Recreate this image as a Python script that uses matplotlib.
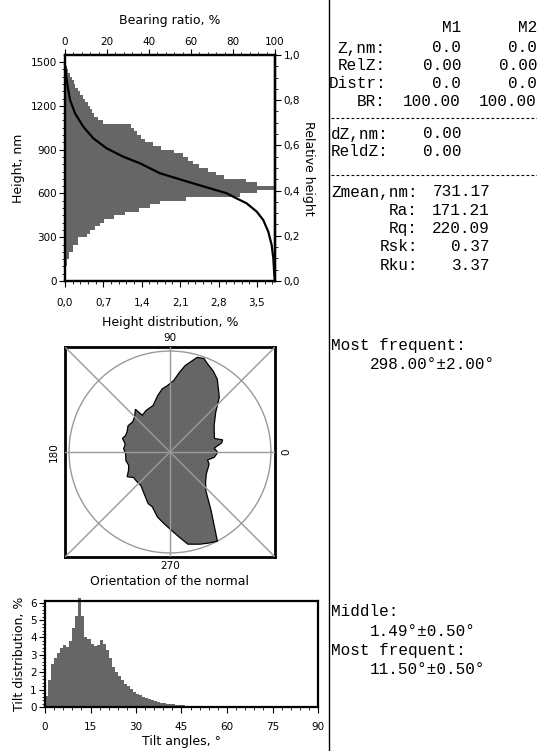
import numpy as np
import matplotlib
matplotlib.use('Agg')
import matplotlib.pyplot as plt
from matplotlib.ticker import MultipleLocator, FuncFormatter

W, H = 537, 751

# height distribution, 25 nm bins starting at 100 nm (%)
height_lo = list(range(100, 1500, 25))
height_dist = [0.03, 0.03, 0.08, 0.08, 0.15, 0.15, 0.24, 0.24, 0.40, 0.46,
               0.55, 0.64, 0.72, 0.90, 1.10, 1.35, 1.55, 1.73, 2.20, 3.20,
               3.50, 3.84, 3.50, 3.30, 2.90, 2.75, 2.60, 2.45, 2.34, 2.25,
               2.15, 1.98, 1.75, 1.60, 1.45, 1.38, 1.31, 1.26, 1.20, 0.70,
               0.60, 0.52, 0.49, 0.45, 0.42, 0.37, 0.32, 0.27, 0.23, 0.19,
               0.16, 0.12, 0.09, 0.06, 0.04, 0.02]

# bearing ratio curve
br_pct = [0, 0.8, 2.4, 4.8, 8.7, 13.5, 19.8, 27.8, 35.7, 40.5, 45.2, 53.2,
          61, 69, 77, 81.7, 86.5, 91.3, 94.4, 96.8, 98.4, 99.2, 99.6, 100]
br_height = [1480, 1377, 1240, 1148, 1057, 977, 909, 851, 806, 772, 738, 703,
             669, 635, 601, 566, 532, 475, 418, 338, 247, 155, 60, 0]

# orientation of the normal (rose), angle in degrees and relative radius
rose_ang = [0, 5, 10, 13, 17, 24, 31, 41, 48, 57, 62, 67, 70, 74, 80, 83, 87,
            92, 97, 102, 110, 120, 127, 129, 135, 141, 148, 155, 160, 164, 170,
            176, 182, 191, 198, 204, 210, 215, 220, 229, 238, 247, 252, 259,
            265, 271, 276, 281, 288, 293, 298, 305, 313, 320, 329, 336, 343,
            348, 353, 357]
rose_r = [0.47, 0.44, 0.52, 0.535, 0.46, 0.48, 0.51, 0.60, 0.73, 0.86, 0.91,
          0.95, 0.985, 0.975, 0.87, 0.80, 0.71, 0.66, 0.63, 0.575, 0.49, 0.475,
          0.455, 0.545, 0.495, 0.475, 0.49, 0.47, 0.47, 0.49, 0.45, 0.46, 0.44,
          0.445, 0.43, 0.45, 0.49, 0.44, 0.44, 0.44, 0.485, 0.555, 0.57, 0.655,
          0.71, 0.775, 0.845, 0.93, 0.96, 0.98, 1.0, 0.71, 0.52, 0.46, 0.42,
          0.41, 0.405, 0.38, 0.44, 0.46]

# tilt distribution, 1 degree bins (%)
tilt_dist = [0.65, 1.53, 2.45, 2.84, 3.10, 3.39, 3.55, 3.43, 3.78, 4.57,
             5.25, 6.25, 5.25, 4.02, 3.94, 3.63, 3.49, 3.59, 3.88, 3.63,
             3.29, 2.80, 2.31, 2.02, 1.76, 1.53, 1.33, 1.20, 1.04, 0.84,
             0.75, 0.69, 0.59, 0.51, 0.45, 0.39, 0.33, 0.29, 0.25, 0.22,
             0.20, 0.18, 0.16, 0.14, 0.12, 0.10, 0.08, 0.06, 0.05, 0.04,
             0.03, 0.03, 0.02, 0.02, 0.01, 0.01]

H_MAX = 1548
GRAY = '#666666'
LINEGRAY = '#9a9a9a'
TICK_FS = 7.5
LAB_FS = 9


def frac(x0, y0, x1, y1):
    # pixel box -> figure fraction rect
    return [x0 / W, 1 - y1 / H, (x1 - x0) / W, (y1 - y0) / H]


def comma(v, pos):
    return ('%.1f' % v).replace('.', ',')


def style_spines(a, lw=1.6):
    for s in a.spines.values():
        s.set_linewidth(lw)


fig = plt.figure(figsize=(W / 100, H / 100), dpi=100)

# ---------- height distribution + bearing ratio ----------
ax = fig.add_axes(frac(65, 55, 275, 281))
ax.barh(height_lo, height_dist, height=25, align='edge', color=GRAY, clip_on=False)
ax.set_xlim(0, 3.83)
ax.set_ylim(0, H_MAX)
ax.xaxis.set_major_locator(MultipleLocator(0.7))
ax.xaxis.set_minor_locator(MultipleLocator(0.14))
ax.xaxis.set_major_formatter(FuncFormatter(comma))
ax.yaxis.set_major_locator(MultipleLocator(300))
ax.yaxis.set_minor_locator(MultipleLocator(50))
ax.tick_params(which='both', direction='out', labelsize=TICK_FS, pad=2)
ax.tick_params(axis='x', pad=8)
ax.tick_params(which='major', length=4)
ax.tick_params(which='minor', length=2)
ax.set_xlabel('Height distribution, %', fontsize=LAB_FS, labelpad=6)
ax.set_ylabel('Height, nm', fontsize=LAB_FS, labelpad=4)
style_spines(ax)

ax_br = ax.twiny()
ax_br.plot(br_pct, br_height, color='black', lw=1.6, clip_on=False)
ax_br.set_xlim(0, 100)
ax_br.xaxis.set_major_locator(MultipleLocator(20))
ax_br.xaxis.set_minor_locator(MultipleLocator(4))
ax_br.tick_params(which='both', direction='out', labelsize=TICK_FS, pad=2)
ax_br.tick_params(which='major', length=4)
ax_br.tick_params(which='minor', length=2)
ax_br.set_xlabel('Bearing ratio, %', fontsize=LAB_FS, labelpad=9)
style_spines(ax_br)

sec = ax.secondary_yaxis('right', functions=(lambda y: y / H_MAX, lambda r: r * H_MAX))
sec.yaxis.set_major_locator(MultipleLocator(0.2))
sec.yaxis.set_minor_locator(MultipleLocator(0.05))
sec.yaxis.set_major_formatter(FuncFormatter(comma))
sec.tick_params(which='both', direction='out', labelsize=TICK_FS, pad=2)
sec.tick_params(which='major', length=4)
sec.tick_params(which='minor', length=2)
sec.set_ylabel('Relative height', fontsize=LAB_FS, rotation=270, labelpad=11)
for s in sec.spines.values():
    s.set_linewidth(1.6)

# ---------- orientation of the normal ----------
axp = fig.add_axes(frac(65, 347, 275, 557))
L = 1.04
axp.set_xlim(-L, L)
axp.set_ylim(-L, L)
axp.set_xticks([])
axp.set_yticks([])
t = np.linspace(0, 2 * np.pi, 361)
axp.plot(np.cos(t), np.sin(t), color=LINEGRAY, lw=1)
a = np.radians(rose_ang)
r = np.array(rose_r)
axp.fill(r * np.cos(a), r * np.sin(a), facecolor=GRAY, edgecolor='black', lw=0.9, zorder=3)
# guide lines are drawn over the rose
axp.plot([-L, L], [0, 0], color=LINEGRAY, lw=1, zorder=4)
axp.plot([0, 0], [-L, L], color=LINEGRAY, lw=1, zorder=4)
axp.plot([-L, L], [-L, L], color=LINEGRAY, lw=1, zorder=4)
axp.plot([-L, L], [L, -L], color=LINEGRAY, lw=1, zorder=4)
style_spines(axp, 2.0)
axp.text(0.5, 1.02, '90', transform=axp.transAxes, ha='center', va='bottom', fontsize=TICK_FS)
axp.text(0.5, -0.02, '270', transform=axp.transAxes, ha='center', va='top', fontsize=TICK_FS)
axp.text(-0.03, 0.5, '180', transform=axp.transAxes, ha='right', va='center', rotation=90, fontsize=TICK_FS)
axp.text(1.03, 0.5, '0', transform=axp.transAxes, ha='left', va='center', rotation=90, fontsize=TICK_FS)
axp.text(0.5, -0.085, 'Orientation of the normal', transform=axp.transAxes,
         ha='center', va='top', fontsize=LAB_FS)

# ---------- tilt distribution ----------
axt = fig.add_axes(frac(45, 601, 318, 707))
axt.bar(np.arange(len(tilt_dist)), tilt_dist, width=1.0, align='edge', color=GRAY, clip_on=False)
axt.set_xlim(0, 90)
axt.set_ylim(0, 6.1)
axt.xaxis.set_major_locator(MultipleLocator(15))
axt.xaxis.set_minor_locator(MultipleLocator(3))
axt.yaxis.set_major_locator(MultipleLocator(1))
axt.yaxis.set_minor_locator(MultipleLocator(0.2))
axt.tick_params(which='both', direction='out', labelsize=TICK_FS, pad=2)
axt.tick_params(axis='x', pad=7)
axt.tick_params(which='major', length=4)
axt.tick_params(which='minor', length=2)
axt.set_xlabel('Tilt angles, \u00b0', fontsize=LAB_FS, labelpad=2)
axt.set_ylabel('Tilt distribution, %', fontsize=LAB_FS, labelpad=3)
style_spines(axt)

# ---------- right text panel ----------
fig.add_artist(plt.Line2D([329 / W, 329 / W], [0, 1], color='black', lw=1))
for yy in (118, 175):
    fig.add_artist(plt.Line2D([331 / W, 1], [1 - yy / H] * 2, color='black', lw=0.8, ls=(0, (2.5, 2))))

mono = dict(family='Liberation Mono', fontsize=11.5, va='center')


def put(x, y, s, ha='left'):
    fig.text(x / W, 1 - y / H, s, ha=ha, **mono)


put(461, 28, 'M1', 'right')
put(537, 28, 'M2', 'right')
rows1 = [('Z,nm:', '0.0', '0.0'), ('RelZ:', '0.00', '0.00'),
         ('Distr:', '0.0', '0.0'), ('BR:', '100.00', '100.00')]
for i, (lab, v1, v2) in enumerate(rows1):
    y = 48 + 18 * i
    put(386, y, lab, 'right')
    put(461, y, v1, 'right')
    put(537, y, v2, 'right')
for i, (lab, v1) in enumerate([('dZ,nm:', '0.00'), ('ReldZ:', '0.00')]):
    y = 134 + 18 * i
    put(331, y, lab)
    put(461, y, v1, 'right')
rows3 = [('Zmean,nm:', '731.17'), ('Ra:', '171.21'), ('Rq:', '220.09'),
         ('Rsk:', '0.37'), ('Rku:', '3.37')]
for i, (lab, v1) in enumerate(rows3):
    y = 192 + 18.3 * i
    put(418, y, lab, 'right')
    put(490, y, v1, 'right')

put(331, 346, 'Most frequent:')
put(370, 364, '298.00\u00b0\u00b12.00\u00b0')
put(331, 611, 'Middle:')
put(370, 631, '1.49\u00b0\u00b10.50\u00b0')
put(331, 651, 'Most frequent:')
put(370, 670, '11.50\u00b0\u00b10.50\u00b0')

fig.savefig('out.png', dpi=100)
